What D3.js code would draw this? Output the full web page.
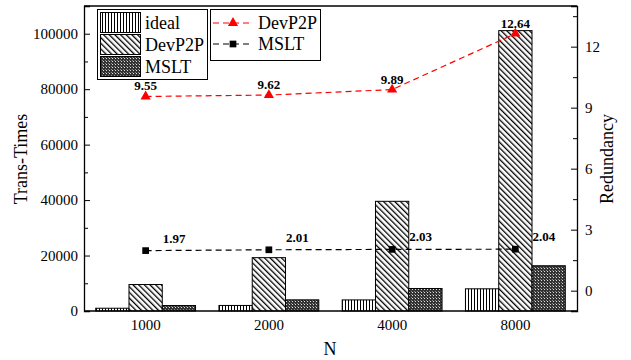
<!DOCTYPE html>
<html><head><meta charset="utf-8">
<script src="https://cdn.jsdelivr.net/npm/d3@7"></script>
<style>body{margin:0;background:#fff}svg{display:block}</style>
</head><body><svg id="c" width="631" height="360"></svg>
<script>
const categories = ["1000","2000","4000","8000"];
const barSeries = ["ideal","DevP2P","MSLT"];
const idealTimes = [1000, 2000, 4000, 8000];
const devTimes = [9550, 19240, 39560, 101120];
const msltTimes = [1970, 4020, 8120, 16320];
const devRedundancy = [9.55, 9.62, 9.89, 12.64];
const msltRedundancy = [1.97, 2.01, 2.03, 2.04];
const leftTicks = [0, 20000, 40000, 60000, 80000, 100000];
const rightTicks = [0, 3, 6, 9, 12];

const svg = d3.select("#c");
const L = 84, R = 577, T = 6, B = 311;
const x0 = d3.scaleBand().domain(categories).range([L, R]).padding(0);
const groupW = x0.bandwidth() * 0.81;
const x1 = d3.scaleBand().domain(barSeries).range([0, groupW]).padding(0);
const yL = d3.scaleLinear().domain([0, 110000]).range([B, T]);
const yR = d3.scaleLinear().domain([-1, 14]).range([B, T]);

const defs = svg.append("defs");
const p1 = defs.append("pattern").attr("id","pIdeal").attr("patternUnits","userSpaceOnUse").attr("width",3).attr("height",4);
p1.append("rect").attr("width",3).attr("height",4).attr("fill","#fff");
p1.append("rect").attr("x",0).attr("width",1).attr("height",4).attr("fill","#000");
const p2 = defs.append("pattern").attr("id","pDev").attr("patternUnits","userSpaceOnUse").attr("width",4).attr("height",4).attr("patternTransform","rotate(-45)");
p2.append("rect").attr("width",4).attr("height",4).attr("fill","#fff");
p2.append("rect").attr("x",0).attr("width",1.3).attr("height",4).attr("fill","#000");
const p3 = defs.append("pattern").attr("id","pMslt").attr("patternUnits","userSpaceOnUse").attr("width",3).attr("height",3);
p3.append("rect").attr("width",3).attr("height",3).attr("fill","#333");
p3.append("rect").attr("x",1).attr("y",1).attr("width",1).attr("height",1).attr("fill","#ddd");
p3.append("rect").attr("x",0).attr("y",0).attr("width",1).attr("height",1).attr("fill","#888");

const fills = {ideal:"url(#pIdeal)", DevP2P:"url(#pDev)", MSLT:"url(#pMslt)"};
const barData = categories.map((c,i)=>({c, vals:[["ideal",idealTimes[i]],["DevP2P",devTimes[i]],["MSLT",msltTimes[i]]]}));

const g = svg.append("g");
barData.forEach(d=>{
  const gx = x0(d.c) + (x0.bandwidth()-groupW)/2;
  d.vals.forEach(([s,v])=>{
    g.append("rect").attr("x", gx + x1(s)).attr("y", yL(v)).attr("width", x1.bandwidth()).attr("height", B - yL(v))
      .attr("fill", fills[s]).attr("stroke","#000").attr("stroke-width",1);
  });
});

const fs = "15px";
const axL = svg.append("g").attr("transform",`translate(${L},0)`)
  .call(d3.axisLeft(yL).tickValues(d3.range(0,110001,10000)).tickSize(-6).tickFormat(d=>leftTicks.includes(d)?d:""));
axL.selectAll(".tick line").attr("x2", d=>leftTicks.includes(d)?6:4);
const axR = svg.append("g").attr("transform",`translate(${R},0)`)
  .call(d3.axisRight(yR).tickValues(d3.range(0,14.01,1.5)).tickSize(-6).tickFormat(d=>rightTicks.includes(d)?d:""));
axR.selectAll(".tick line").attr("x2", d=>rightTicks.includes(d)?-6:-4);
const axB = svg.append("g").attr("transform",`translate(0,${B})`).call(d3.axisBottom(x0).tickSize(0).tickPadding(8));
[axL,axR,axB].forEach(a=>{
  a.selectAll("text").attr("font-size",fs).attr("fill","#000");
  a.select(".domain").attr("stroke","#000").attr("stroke-width",1.3);
  a.selectAll(".tick line").attr("stroke","#000");
});
axL.selectAll("text").attr("x",-6);
axR.selectAll("text").attr("x",8);
axB.select(".domain").attr("d",`M${L},0H${R}`);
svg.append("line").attr("x1",L).attr("x2",R).attr("y1",T).attr("y2",T).attr("stroke","#000").attr("stroke-width",1.3);

svg.append("text").attr("transform","translate(27,159) rotate(-90)").attr("text-anchor","middle").attr("font-size","18px").text("Trans-Times");
svg.append("text").attr("transform","translate(613,159) rotate(-90)").attr("text-anchor","middle").attr("font-size","18px").text("Redundancy");
svg.append("text").attr("x",330).attr("y",355).attr("text-anchor","middle").attr("font-size","18px").text("N");

const cx = c => x0(c) + x0.bandwidth()/2;
const lineGen = arr => d3.line().x((d,i)=>cx(categories[i])).y(d=>yR(d))(arr);
svg.append("path").attr("d", lineGen(devRedundancy)).attr("fill","none").attr("stroke","#ff0000").attr("stroke-width",1.2).attr("stroke-dasharray","6,4");
svg.append("path").attr("d", lineGen(msltRedundancy)).attr("fill","none").attr("stroke","#000").attr("stroke-width",1.2).attr("stroke-dasharray","6,4");
const tri = d3.symbol().type(d3.symbolTriangle).size(45);
const sq = d3.symbol().type(d3.symbolSquare).size(45);
devRedundancy.forEach((v,i)=>{
  svg.append("path").attr("d",tri()).attr("transform",`translate(${cx(categories[i])},${yR(v)})`).attr("fill","#ff0000");
  svg.append("text").attr("x",cx(categories[i])).attr("y",yR(v)-6).attr("text-anchor","middle").attr("font-size","13px").attr("font-weight","bold").text(v.toFixed(2));
});
msltRedundancy.forEach((v,i)=>{
  svg.append("path").attr("d",sq()).attr("transform",`translate(${cx(categories[i])},${yR(v)})`).attr("fill","#000");
  svg.append("text").attr("x",cx(categories[i])+17).attr("y",yR(v)-8).attr("text-anchor","start").attr("font-size","13px").attr("font-weight","bold").text(v.toFixed(2));
});

svg.append("rect").attr("x",97.5).attr("y",9.5).attr("width",110).attr("height",70).attr("fill","#fff").attr("stroke","#000").attr("stroke-width",1);
barSeries.forEach((s,i)=>{
  const yy = 12.5 + i*22;
  svg.append("rect").attr("x",100.5).attr("y",yy).attr("width",40).attr("height",20).attr("fill",fills[s]).attr("stroke","#000").attr("stroke-width",1);
  svg.append("text").attr("x",145).attr("y",yy+16).attr("font-size","18px").text(s);
});
svg.append("rect").attr("x",210.5).attr("y",9.5).attr("width",110).attr("height",51).attr("fill","#fff").attr("stroke","#000").attr("stroke-width",1);
[["DevP2P","#ff0000",tri],["MSLT","#000",sq]].forEach(([s,col,sym],i)=>{
  const yy = 23 + i*21;
  svg.append("line").attr("x1",213).attr("x2",253).attr("y1",yy).attr("y2",yy).attr("stroke",col).attr("stroke-width",1.2).attr("stroke-dasharray","6,4");
  svg.append("path").attr("d",sym()).attr("transform",`translate(233,${yy})`).attr("fill",col);
  svg.append("text").attr("x",258).attr("y",yy+6).attr("font-size","18px").text(s);
});
svg.selectAll("text").style("font-family",'"Liberation Serif"');
svg.selectAll("g").style("font-family",'"Liberation Serif"');
</script></body></html>
